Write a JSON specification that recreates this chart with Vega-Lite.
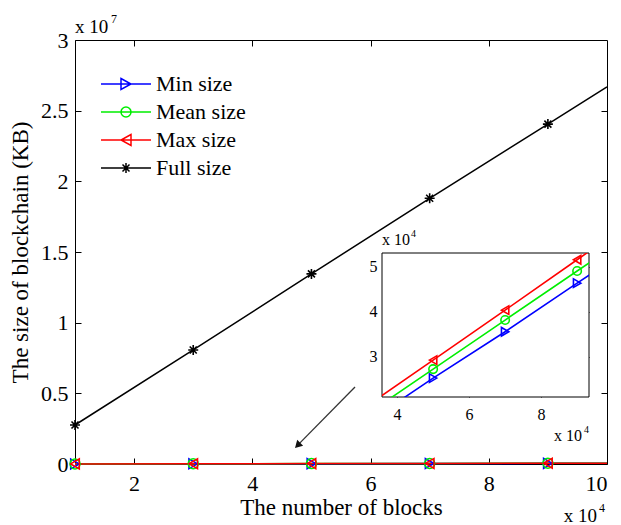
{
  "$schema": "https://vega.github.io/schema/vega-lite/v6.json",
  "width": 532,
  "height": 424,
  "autosize": {"type": "none"},
  "padding": {"left": 75, "top": 40, "right": 14, "bottom": 61},
  "background": "white",
  "config": {
    "font": "Liberation Serif",
    "view": {"stroke": "black", "strokeWidth": 1},
    "point": {"opacity": 1},
    "axis": {"grid": false, "domainColor": "black", "tickColor": "black", "labelColor": "black", "titleColor": "black", "labelFont": "Liberation Serif", "titleFont": "Liberation Serif", "titleFontWeight": "normal", "labelFontSize": 22, "titleFontSize": 23, "tickSize": -6, "tickWidth": 1, "domainWidth": 1},
    "legend": {"labelFont": "Liberation Serif"}
  },
  "datasets": {
    "sizes": [
      {"series": "Min size", "blocks": 10000, "kb": 4500, "marker": true},
      {"series": "Min size", "blocks": 30000, "kb": 14500, "marker": true},
      {"series": "Min size", "blocks": 50000, "kb": 25300, "marker": true},
      {"series": "Min size", "blocks": 70000, "kb": 35600, "marker": true},
      {"series": "Min size", "blocks": 90000, "kb": 46400, "marker": true},
      {"series": "Min size", "blocks": 100000, "kb": 51700, "marker": false},
      {"series": "Mean size", "blocks": 10000, "kb": 5500, "marker": true},
      {"series": "Mean size", "blocks": 30000, "kb": 16400, "marker": true},
      {"series": "Mean size", "blocks": 50000, "kb": 27300, "marker": true},
      {"series": "Mean size", "blocks": 70000, "kb": 38200, "marker": true},
      {"series": "Mean size", "blocks": 90000, "kb": 49100, "marker": true},
      {"series": "Mean size", "blocks": 100000, "kb": 54500, "marker": false},
      {"series": "Max size", "blocks": 10000, "kb": 7000, "marker": true},
      {"series": "Max size", "blocks": 30000, "kb": 18200, "marker": true},
      {"series": "Max size", "blocks": 50000, "kb": 29300, "marker": true},
      {"series": "Max size", "blocks": 70000, "kb": 40400, "marker": true},
      {"series": "Max size", "blocks": 90000, "kb": 51600, "marker": true},
      {"series": "Max size", "blocks": 100000, "kb": 57200, "marker": false},
      {"series": "Full size", "blocks": 10000, "kb": 2760000, "marker": true},
      {"series": "Full size", "blocks": 30000, "kb": 8070000, "marker": true},
      {"series": "Full size", "blocks": 50000, "kb": 13450000, "marker": true},
      {"series": "Full size", "blocks": 70000, "kb": 18800000, "marker": true},
      {"series": "Full size", "blocks": 90000, "kb": 24050000, "marker": true},
      {"series": "Full size", "blocks": 100000, "kb": 26680000, "marker": false}
    ]
  },
  "layer": [
    {
      "layer": [
        {
          "data": {"name": "sizes"},
          "mark": {"type": "line", "strokeWidth": 1.5},
          "encoding": {
            "x": {"field": "blocks", "type": "quantitative",
              "scale": {"domain": [10000, 100000], "nice": false, "zero": false},
              "axis": {"orient": "bottom", "values": [20000, 40000, 60000, 80000, 100000], "labelExpr": "format(datum.value/10000, 'd')", "title": "The number of blocks", "labelPadding": 15, "titlePadding": 2, "domain": false}},
            "y": {"field": "kb", "type": "quantitative",
              "scale": {"domain": [0, 30000000], "nice": false, "zero": false},
              "axis": {"orient": "left", "values": [0, 5000000, 10000000, 15000000, 20000000, 25000000, 30000000], "labelExpr": "format(datum.value/10000000, '~g')", "title": "The size of blockchain (KB)", "labelPadding": 13, "titlePadding": 8, "domain": false}},
            "color": {"field": "series", "type": "nominal",
              "scale": {"domain": ["Min size", "Mean size", "Max size", "Full size"], "range": ["#0000ff", "#00ee00", "#ff0000", "#000000"]},
              "legend": {
                "orient": "none", "legendX": 40, "legendY": 33, "title": null, "padding": 0,
                "labelFontSize": 22, "labelOffset": 19, "rowPadding": 6, "symbolSize": 100, "symbolStrokeWidth": 1.5, "symbolFillColor": "transparent", "symbolOpacity": 1, "labelLimit": 300}}
          }
        },
        {
          "data": {"name": "sizes"},
          "transform": [{"filter": "false"}],
          "mark": {"type": "point", "filled": false, "size": 100, "strokeWidth": 1.5, "opacity": 1},
          "encoding": {
            "x": {"field": "blocks", "type": "quantitative", "axis": null},
            "y": {"field": "kb", "type": "quantitative", "axis": null},
            "color": {"field": "series", "type": "nominal"},
            "shape": {"field": "series", "type": "nominal",
              "scale": {"domain": ["Min size", "Mean size", "Max size", "Full size"],
                "range": ["M-5,0L5,0M-1,-1.1L1,0L-1,1.1Z", "M-5,0L5,0M1,0A1,1,0,1,1,-1,0A1,1,0,1,1,1,0Z", "M-5,0L5,0M1,-1.1L-1,0L1,1.1Z", "M-5,0L5,0M-1,0L1,0M0,-1L0,1M-0.7,-0.7L0.7,0.7M-0.7,0.7L0.7,-0.7"]},
              "legend": {
                "orient": "none", "legendX": 40, "legendY": 33, "title": null, "padding": 0,
                "labelFontSize": 22, "labelOffset": 19, "rowPadding": 6, "symbolSize": 100, "symbolStrokeWidth": 1.5, "symbolFillColor": "transparent", "symbolOpacity": 1, "labelLimit": 300}}
          }
        },
        {
          "data": {"name": "sizes"},
          "transform": [{"filter": "datum.marker && datum.series === 'Min size'"}],
          "mark": {"type": "point", "shape": "triangle-right", "filled": false, "size": 100, "strokeWidth": 1.5, "opacity": 1},
          "encoding": {
            "x": {"field": "blocks", "type": "quantitative", "axis": null},
            "y": {"field": "kb", "type": "quantitative", "axis": null},
            "color": {"field": "series", "type": "nominal"}
          }
        },
        {
          "data": {"name": "sizes"},
          "transform": [{"filter": "datum.marker && datum.series === 'Mean size'"}],
          "mark": {"type": "point", "shape": "circle", "filled": false, "size": 100, "strokeWidth": 1.5, "opacity": 1},
          "encoding": {
            "x": {"field": "blocks", "type": "quantitative", "axis": null},
            "y": {"field": "kb", "type": "quantitative", "axis": null},
            "color": {"field": "series", "type": "nominal"}
          }
        },
        {
          "data": {"name": "sizes"},
          "transform": [{"filter": "datum.marker && datum.series === 'Max size'"}],
          "mark": {"type": "point", "shape": "triangle-left", "filled": false, "size": 100, "strokeWidth": 1.5, "opacity": 1},
          "encoding": {
            "x": {"field": "blocks", "type": "quantitative", "axis": null},
            "y": {"field": "kb", "type": "quantitative", "axis": null},
            "color": {"field": "series", "type": "nominal"}
          }
        },
        {
          "data": {"name": "sizes"},
          "transform": [{"filter": "datum.marker && datum.series === 'Full size'"}],
          "mark": {"type": "point", "shape": "M-1,0L1,0M0,-1L0,1M-0.7,-0.7L0.7,0.7M-0.7,0.7L0.7,-0.7", "filled": false, "size": 100, "strokeWidth": 1.6, "opacity": 1},
          "encoding": {
            "x": {"field": "blocks", "type": "quantitative", "axis": null},
            "y": {"field": "kb", "type": "quantitative", "axis": null},
            "color": {"field": "series", "type": "nominal"}
          }
        },
        {
          "data": {"name": "sizes"},
          "mark": {"type": "point", "opacity": 0},
          "encoding": {
            "x": {"field": "blocks", "type": "quantitative", "axis": {"orient": "top", "values": [20000, 40000, 60000, 80000], "labels": false, "title": null, "domain": false}},
            "y": {"field": "kb", "type": "quantitative", "axis": {"orient": "right", "values": [5000000, 10000000, 15000000, 20000000, 25000000], "labels": false, "title": null, "domain": false}}
          }
        },
        {
          "data": {"values": [{}]},
          "mark": {"type": "rule", "stroke": "#333333", "strokeWidth": 1.3},
          "encoding": {
            "x": {"datum": 57370, "type": "quantitative", "axis": null},
            "y": {"datum": 5450000, "type": "quantitative", "axis": null},
            "x2": {"datum": 47600},
            "y2": {"datum": 1300000}
          }
        },
        {
          "data": {"values": [{}]},
          "mark": {"type": "point", "shape": "triangle", "angle": 225, "size": 70, "filled": true, "color": "#111111", "opacity": 1},
          "encoding": {
            "x": {"datum": 47800, "type": "quantitative", "axis": null},
            "y": {"datum": 1380000, "type": "quantitative", "axis": null}
          }
        },
        {
          "data": {"values": [{}]},
          "mark": {"type": "text", "align": "left", "baseline": "alphabetic", "dy": -7, "fontSize": 19, "color": "black"},
          "encoding": {
            "x": {"datum": 10000, "type": "quantitative", "axis": null},
            "y": {"datum": 30000000, "type": "quantitative", "axis": null},
            "text": {"value": "x 10"}
          }
        },
        {
          "data": {"values": [{}]},
          "mark": {"type": "text", "align": "left", "baseline": "alphabetic", "dx": 36, "dy": -17, "fontSize": 12, "color": "black"},
          "encoding": {
            "x": {"datum": 10000, "type": "quantitative", "axis": null},
            "y": {"datum": 30000000, "type": "quantitative", "axis": null},
            "text": {"value": "7"}
          }
        },
        {
          "data": {"values": [{}]},
          "mark": {"type": "text", "align": "right", "baseline": "alphabetic", "dx": -10, "dy": 58, "fontSize": 19, "color": "black"},
          "encoding": {
            "x": {"datum": 100000, "type": "quantitative", "axis": null},
            "y": {"datum": 0, "type": "quantitative", "axis": null},
            "text": {"value": "x 10"}
          }
        },
        {
          "data": {"values": [{}]},
          "mark": {"type": "text", "align": "left", "baseline": "alphabetic", "dx": -8, "dy": 48, "fontSize": 12, "color": "black"},
          "encoding": {
            "x": {"datum": 100000, "type": "quantitative", "axis": null},
            "y": {"datum": 0, "type": "quantitative", "axis": null},
            "text": {"value": "4"}
          }
        }
      ],
      "resolve": {"axis": {"x": "independent", "y": "independent"}}
    },
    {
      "layer": [
        {
          "data": {"values": [{}]},
          "mark": {"type": "rect", "fill": "white", "stroke": "black", "strokeWidth": 1},
          "encoding": {
            "x": {"datum": 35800, "type": "quantitative",
              "scale": {"domain": [35800, 93300], "range": [307, 514], "nice": false, "zero": false},
              "axis": {"orient": "bottom", "offset": -67, "values": [40000, 60000, 80000], "labelExpr": "format(datum.value/10000, 'd')", "title": null, "labelFontSize": 16, "tickSize": -4, "labelPadding": 13, "domain": false}},
            "x2": {"datum": 93300},
            "y": {"datum": 21100, "type": "quantitative",
              "scale": {"domain": [21100, 53100], "range": [357, 213], "nice": false, "zero": false},
              "axis": {"orient": "left", "offset": -307, "values": [30000, 40000, 50000], "labelExpr": "format(datum.value/10000, 'd')", "title": null, "labelFontSize": 16, "tickSize": -4, "labelPadding": 9, "domain": false}},
            "y2": {"datum": 53100}
          }
        },
        {
          "data": {"values": [{}]},
          "mark": {"type": "rect", "fill": "transparent", "strokeWidth": 0},
          "encoding": {
            "x": {"datum": 35800, "type": "quantitative",
              "axis": {"orient": "top", "offset": -213, "values": [40000, 60000, 80000], "labels": false, "title": null, "tickSize": -4, "domain": false}},
            "x2": {"datum": 93300},
            "y": {"datum": 21100, "type": "quantitative",
              "axis": {"orient": "right", "offset": -18, "values": [30000, 40000, 50000], "labels": false, "title": null, "tickSize": -4, "domain": false}},
            "y2": {"datum": 53100}
          }
        },
        {
          "data": {"name": "sizes"},
          "transform": [{"filter": "datum.series !== 'Full size'"}],
          "mark": {"type": "line", "strokeWidth": 1.6, "clip": {"path": "M307,213L514,213L514,357L307,357Z"}},
          "encoding": {
            "x": {"field": "blocks", "type": "quantitative", "axis": null},
            "y": {"field": "kb", "type": "quantitative", "axis": null},
            "color": {"field": "series", "type": "nominal"}
          }
        },
        {
          "data": {"name": "sizes"},
          "transform": [{"filter": "datum.marker && datum.series === 'Min size' && datum.blocks >= 50000"}],
          "mark": {"type": "point", "shape": "triangle-right", "filled": false, "size": 72, "strokeWidth": 1.6, "opacity": 1},
          "encoding": {
            "x": {"field": "blocks", "type": "quantitative", "axis": null},
            "y": {"field": "kb", "type": "quantitative", "axis": null},
            "color": {"field": "series", "type": "nominal"}
          }
        },
        {
          "data": {"name": "sizes"},
          "transform": [{"filter": "datum.marker && datum.series === 'Mean size' && datum.blocks >= 50000"}],
          "mark": {"type": "point", "shape": "circle", "filled": false, "size": 72, "strokeWidth": 1.6, "opacity": 1},
          "encoding": {
            "x": {"field": "blocks", "type": "quantitative", "axis": null},
            "y": {"field": "kb", "type": "quantitative", "axis": null},
            "color": {"field": "series", "type": "nominal"}
          }
        },
        {
          "data": {"name": "sizes"},
          "transform": [{"filter": "datum.marker && datum.series === 'Max size' && datum.blocks >= 50000"}],
          "mark": {"type": "point", "shape": "triangle-left", "filled": false, "size": 72, "strokeWidth": 1.6, "opacity": 1},
          "encoding": {
            "x": {"field": "blocks", "type": "quantitative", "axis": null},
            "y": {"field": "kb", "type": "quantitative", "axis": null},
            "color": {"field": "series", "type": "nominal"}
          }
        },
        {
          "data": {"values": [{}]},
          "mark": {"type": "text", "align": "left", "baseline": "alphabetic", "dy": -8, "fontSize": 16, "color": "black"},
          "encoding": {
            "x": {"datum": 35800, "type": "quantitative", "axis": null},
            "y": {"datum": 53100, "type": "quantitative", "axis": null},
            "text": {"value": "x 10"}
          }
        },
        {
          "data": {"values": [{}]},
          "mark": {"type": "text", "align": "left", "baseline": "alphabetic", "dx": 29, "dy": -16, "fontSize": 10, "color": "black"},
          "encoding": {
            "x": {"datum": 35800, "type": "quantitative", "axis": null},
            "y": {"datum": 53100, "type": "quantitative", "axis": null},
            "text": {"value": "4"}
          }
        },
        {
          "data": {"values": [{}]},
          "mark": {"type": "text", "align": "right", "baseline": "alphabetic", "dx": -7, "dy": 44, "fontSize": 16, "color": "black"},
          "encoding": {
            "x": {"datum": 93300, "type": "quantitative", "axis": null},
            "y": {"datum": 21100, "type": "quantitative", "axis": null},
            "text": {"value": "x 10"}
          }
        },
        {
          "data": {"values": [{}]},
          "mark": {"type": "text", "align": "left", "baseline": "alphabetic", "dx": -5, "dy": 36, "fontSize": 10, "color": "black"},
          "encoding": {
            "x": {"datum": 93300, "type": "quantitative", "axis": null},
            "y": {"datum": 21100, "type": "quantitative", "axis": null},
            "text": {"value": "4"}
          }
        }
      ],
      "resolve": {"axis": {"x": "independent", "y": "independent"}}
    }
  ],
  "resolve": {"scale": {"x": "independent", "y": "independent"}}
}
